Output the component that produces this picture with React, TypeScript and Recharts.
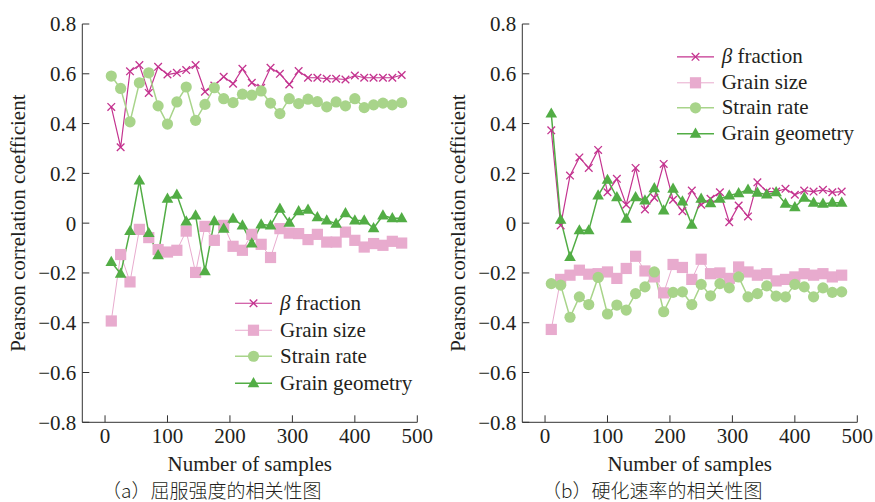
import React from 'react';
import { LineChart, Line, XAxis, YAxis, Legend } from 'recharts';

// ---------- data ----------
const samples = [10, 25, 40, 55, 70, 85, 100, 115, 130, 145, 160, 175, 190, 205, 220, 235, 250, 265, 280, 295, 310, 325, 340, 355, 370, 385, 400, 415, 430, 445, 460, 475];

// (a) yield strength
const betaA = [0.467, 0.305, 0.61, 0.635, 0.523, 0.628, 0.597, 0.604, 0.615, 0.635, 0.528, 0.553, 0.588, 0.56, 0.62, 0.564, 0.544, 0.624, 0.6, 0.557, 0.611, 0.584, 0.584, 0.58, 0.58, 0.577, 0.593, 0.584, 0.584, 0.584, 0.584, 0.595];
const sizeA = [-0.393, -0.126, -0.236, -0.025, -0.058, -0.106, -0.116, -0.109, -0.032, -0.198, -0.013, -0.069, -0.009, -0.093, -0.109, -0.045, -0.085, -0.138, -0.022, -0.04, -0.042, -0.066, -0.045, -0.076, -0.076, -0.036, -0.069, -0.096, -0.082, -0.089, -0.073, -0.08];
const strainA = [0.591, 0.541, 0.407, 0.564, 0.604, 0.471, 0.398, 0.487, 0.547, 0.413, 0.477, 0.544, 0.5, 0.484, 0.518, 0.514, 0.531, 0.482, 0.44, 0.5, 0.48, 0.498, 0.488, 0.467, 0.487, 0.471, 0.5, 0.464, 0.475, 0.482, 0.475, 0.484];
const geomA = [-0.156, -0.203, -0.032, 0.171, -0.04, -0.129, 0.098, 0.114, 0.007, 0.031, -0.193, 0.008, -0.022, 0.018, -0.009, -0.082, -0.005, -0.009, 0.058, 0.002, 0.048, 0.054, 0.024, 0.011, -0.002, 0.04, 0.011, 0.011, -0.02, 0.031, 0.02, 0.02];

// (b) hardening rate
const betaB = [0.373, -0.009, 0.191, 0.264, 0.222, 0.294, 0.124, 0.178, 0.074, 0.222, 0.055, 0.102, 0.238, 0.094, 0.048, 0.131, 0.074, 0.098, 0.124, 0.004, 0.071, 0.027, 0.164, 0.127, 0.127, 0.138, 0.114, 0.131, 0.127, 0.134, 0.124, 0.127];
const sizeB = [-0.427, -0.226, -0.209, -0.189, -0.205, -0.203, -0.196, -0.222, -0.182, -0.133, -0.192, -0.216, -0.28, -0.166, -0.178, -0.226, -0.145, -0.203, -0.2, -0.222, -0.176, -0.196, -0.209, -0.203, -0.232, -0.226, -0.216, -0.203, -0.209, -0.203, -0.216, -0.209];
const strainB = [-0.243, -0.249, -0.378, -0.296, -0.327, -0.218, -0.365, -0.329, -0.349, -0.283, -0.256, -0.196, -0.356, -0.278, -0.276, -0.327, -0.246, -0.292, -0.243, -0.26, -0.216, -0.296, -0.283, -0.252, -0.293, -0.296, -0.246, -0.256, -0.296, -0.26, -0.278, -0.276];
const geomB = [0.44, 0.014, -0.136, -0.029, -0.029, 0.111, 0.174, 0.104, 0.018, 0.104, 0.091, 0.14, 0.051, 0.138, 0.087, -0.006, 0.098, 0.08, 0.098, 0.111, 0.12, 0.134, 0.122, 0.115, 0.124, 0.078, 0.064, 0.102, 0.082, 0.078, 0.082, 0.082];

const xTicks = [0, 100, 200, 300, 400, 500];
const yTicks = [-0.8, -0.6, -0.4, -0.2, 0, 0.2, 0.4, 0.6, 0.8];
const seriesKeys = ['beta', 'size', 'strain', 'geom'];
const seriesNames = ['β fraction', 'Grain size', 'Strain rate', 'Grain geometry'];
const captionA = '（a）屈服强度的相关性图';
const captionB = '（b）硬化速率的相关性图';

// ---------- style ----------
const FONT = "'Liberation Serif', 'Times New Roman', 'DejaVu Serif', serif";
const CJK = "'Noto Sans CJK SC', sans-serif";
const FS = 21;
const TEXT = '#231F20';
const AXIS = '#333333';
const COLORS: Record<string, string> = { beta: '#C4338F', size: '#E8ABCE', strain: '#A8D48A', geom: '#52AD45' };
const WIDTHS: Record<string, number> = { beta: 1.2, size: 1, strain: 1.5, geom: 1.5 };

const buildRows = (b: number[], s: number[], st: number[], g: number[]) =>
  samples.map((x, i) => ({ x, beta: b[i], size: s[i], strain: st[i], geom: g[i] }));

const dataA = buildRows(betaA, sizeA, strainA, geomA);
const dataB = buildRows(betaB, sizeB, strainB, geomB);

function Marker({ kind, cx, cy }: { kind: string; cx: number; cy: number }) {
  const c = COLORS[kind];
  if (kind === 'beta') {
    const d = 3.8;
    return (
      <g>
        <line x1={cx - d} y1={cy - d} x2={cx + d} y2={cy + d} stroke={c} strokeWidth={1.3} />
        <line x1={cx - d} y1={cy + d} x2={cx + d} y2={cy - d} stroke={c} strokeWidth={1.3} />
      </g>
    );
  }
  if (kind === 'size') {
    return <rect x={cx - 5.6} y={cy - 5.6} width={11.2} height={11.2} fill={c} />;
  }
  if (kind === 'strain') {
    return <circle cx={cx} cy={cy} r={5.6} fill={c} />;
  }
  return <polygon points={`${cx},${cy - 6.2} ${cx - 5.8},${cy + 4} ${cx + 5.8},${cy + 4}`} fill={c} />;
}

const makeDot = (kind: string) => (props: any) => {
  const { cx, cy, index } = props;
  if (cx == null || cy == null) return <g key={`${kind}-${index}`} />;
  return (
    <g key={`${kind}-${index}`}>
      <Marker kind={kind} cx={cx} cy={cy} />
    </g>
  );
};

const fmtY = (v: number) => (Math.abs(v) < 1e-9 ? '0' : v.toFixed(1).replace('-', '−'));

const LegendBox = ({ rowH }: { rowH: number }) => (props: any) => {
  const payload = (props.payload || []).slice().sort(
    (a: any, b: any) => seriesKeys.indexOf(a.dataKey) - seriesKeys.indexOf(b.dataKey)
  );
  return (
    <div style={{ fontFamily: FONT, fontSize: FS, color: TEXT, lineHeight: `${rowH}px` }}>
      {payload.map((p: any) => {
        const k = p.dataKey as string;
        return (
          <div key={k} style={{ display: 'flex', alignItems: 'center', height: rowH, whiteSpace: 'nowrap' }}>
            <svg width={45} height={rowH} style={{ display: 'block' }}>
              <line x1={0} x2={37} y1={rowH / 2} y2={rowH / 2} stroke={COLORS[k]} strokeWidth={WIDTHS[k]} />
              <Marker kind={k} cx={18.5} cy={rowH / 2} />
            </svg>
            <span>
              {k === 'beta' ? (
                <>
                  <i>β</i> fraction
                </>
              ) : (
                p.value
              )}
            </span>
          </div>
        );
      })}
    </div>
  );
};

function Panel({ data, legendLeft, legendTop, rowH }: { data: any[]; legendLeft: number; legendTop: number; rowH: number }) {
  return (
    <LineChart width={440} height={502} data={data} margin={{ top: 24, right: 22.7, bottom: 49.7, left: 0 }}>
      <XAxis
        dataKey="x"
        type="number"
        domain={[-36.4, 500]}
        ticks={xTicks}
        allowDataOverflow
        height={30}
        tickSize={-7}
        tickMargin={13}
        stroke={AXIS}
        tick={{ fill: TEXT, fontSize: FS, fontFamily: FONT }}
        label={{ value: 'Number of samples', position: 'bottom', offset: 3.5, fill: TEXT, fontSize: FS, fontFamily: FONT }}
      />
      <YAxis
        type="number"
        domain={[-0.8, 0.8]}
        ticks={yTicks}
        allowDataOverflow
        width={82.3}
        tickSize={-7}
        tickMargin={13}
        tickFormatter={fmtY}
        stroke={AXIS}
        tick={{ fill: TEXT, fontSize: FS, fontFamily: FONT }}
        label={{
          value: 'Pearson correlation coefficient',
          angle: -90,
          position: 'insideLeft',
          offset: 18,
          fill: TEXT,
          fontSize: FS,
          fontFamily: FONT,
          style: { textAnchor: 'middle' },
        }}
      />
      <Legend
        layout="vertical"
        align="center"
        verticalAlign="middle"
        content={LegendBox({ rowH })}
        wrapperStyle={{ position: 'absolute', left: legendLeft, top: legendTop, width: 'auto', height: 'auto' }}
      />
      {seriesKeys.map((k, i) => (
        <Line
          key={k}
          dataKey={k}
          name={seriesNames[i]}
          type="linear"
          stroke={COLORS[k]}
          strokeWidth={WIDTHS[k]}
          dot={makeDot(k)}
          activeDot={false}
          isAnimationActive={false}
        />
      ))}
    </LineChart>
  );
}

const captionStyle: React.CSSProperties = {
  position: 'absolute',
  top: 480,
  height: 20,
  fontFamily: CJK,
  fontWeight: 300,
  fontSize: 19,
  lineHeight: '20px',
  color: TEXT,
  whiteSpace: 'nowrap',
};

export default function App() {
  return (
    <div style={{ position: 'absolute', left: 0, top: 0, width: 875, height: 502, background: '#fff', overflow: 'hidden' }}>
      <div style={{ position: 'absolute', left: 0, top: 0 }}>
        <Panel data={dataA} legendLeft={235} legendTop={290} rowH={26.5} />
      </div>
      <div style={{ position: 'absolute', left: 440, top: 0 }}>
        <Panel data={dataB} legendLeft={236.7} legendTop={44} rowH={25.6} />
      </div>
      <div style={{ ...captionStyle, left: 102 }}>{captionA}</div>
      <div style={{ ...captionStyle, left: 542 }}>{captionB}</div>
    </div>
  );
}
